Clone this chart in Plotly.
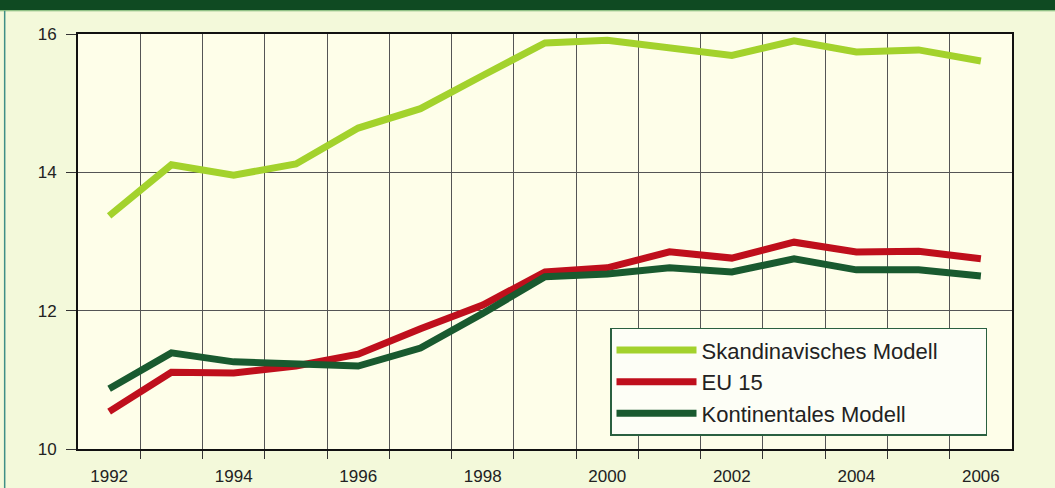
import plotly.graph_objects as go

years = list(range(1992, 2007))
skandinavisch = [13.37, 14.11, 13.96, 14.12, 14.64, 14.92, 15.40, 15.87, 15.91, 15.80, 15.69, 15.90, 15.74, 15.77, 15.61]
eu15 = [10.54, 11.11, 11.10, 11.20, 11.37, 11.74, 12.08, 12.56, 12.62, 12.85, 12.76, 12.99, 12.85, 12.86, 12.75]
kontinental = [10.87, 11.39, 11.26, 11.23, 11.20, 11.46, 11.96, 12.49, 12.53, 12.62, 12.56, 12.75, 12.59, 12.59, 12.50]

series_names = ["Skandinavisches Modell", "EU 15", "Kontinentales Modell"]
series_values = [skandinavisch, eu15, kontinental]
series_colors = ["#a3d22c", "#bf0f1c", "#195a2f"]

x_tick_vals = [1992, 1994, 1996, 1998, 2000, 2002, 2004, 2006]
x_tick_text = [str(v) for v in x_tick_vals]
x_grid_vals = [y + 0.5 for y in years[:-1]]
y_tick_vals = [10, 12, 14, 16]

FONT = "Liberation Sans, Arial, sans-serif"
PAD = "\u00a0" * 7

fig = go.Figure()
for name, vals, col in zip(series_names, series_values, series_colors):
    fig.add_trace(go.Scatter(x=years, y=vals, name=name + PAD, mode="lines",
                             line=dict(color=col, width=7)))

fig.update_layout(
    width=1055, height=488,
    margin=dict(l=78, r=43, t=34, b=39),
    paper_bgcolor="#f3f9da",
    plot_bgcolor="#fefee9",
    font=dict(family=FONT, size=17, color="#222222"),
    showlegend=True,
    legend=dict(
        x=0.5696, y=0.292, xanchor="left", yanchor="top",
        bgcolor="#fdfef6", bordercolor="#2a6040", borderwidth=1.5,
        font=dict(family=FONT, size=22, color="#222222"),
        itemwidth=80, tracegroupgap=0,
    ),
    xaxis=dict(
        range=[1991.5, 2006.5], automargin=False,
        tickmode="array", tickvals=x_tick_vals, ticktext=x_tick_text,
        ticks="", showgrid=False, zeroline=False,
        showline=True, mirror=True, linecolor="#111111", linewidth=2,
        tickfont=dict(size=17, color="#222222"),
        ticklabelstandoff=11,
        minor=dict(tickmode="array", tickvals=x_grid_vals, ticks="outside",
                   ticklen=8, tickcolor="#333333", tickwidth=1,
                   showgrid=True, gridcolor="#555555", gridwidth=1),
        fixedrange=True,
    ),
    yaxis=dict(
        range=[10, 16], automargin=False,
        tickmode="array", tickvals=y_tick_vals,
        ticks="outside", ticklen=10, tickcolor="#333333", tickwidth=1,
        showgrid=True, gridcolor="#555555", gridwidth=1, zeroline=False,
        showline=True, mirror=True, linecolor="#111111", linewidth=2,
        tickfont=dict(size=17, color="#222222"),
        ticklabelstandoff=6,
        fixedrange=True,
    ),
    shapes=[
        dict(type="rect", xref="paper", yref="paper",
             x0=-0.09, x1=1.06, y0=1.058, y1=1.09,
             fillcolor="#0f4a22", line=dict(width=0), layer="above"),
        dict(type="line", xref="paper", yref="paper",
             x0=-0.09, x1=1.06, y0=1.056, y1=1.056,
             line=dict(color="#6fae6a", width=1)),
        dict(type="line", xref="paper", yref="paper",
             x0=-0.0785, x1=-0.0785, y0=-0.1, y1=1.056,
             line=dict(color="#3f8f86", width=1.5)),
    ],
)

fig.write_html("out.html",
               config={"displayModeBar": False},
               post_script="document.body.style.margin='0px';document.body.style.overflow='hidden';")
